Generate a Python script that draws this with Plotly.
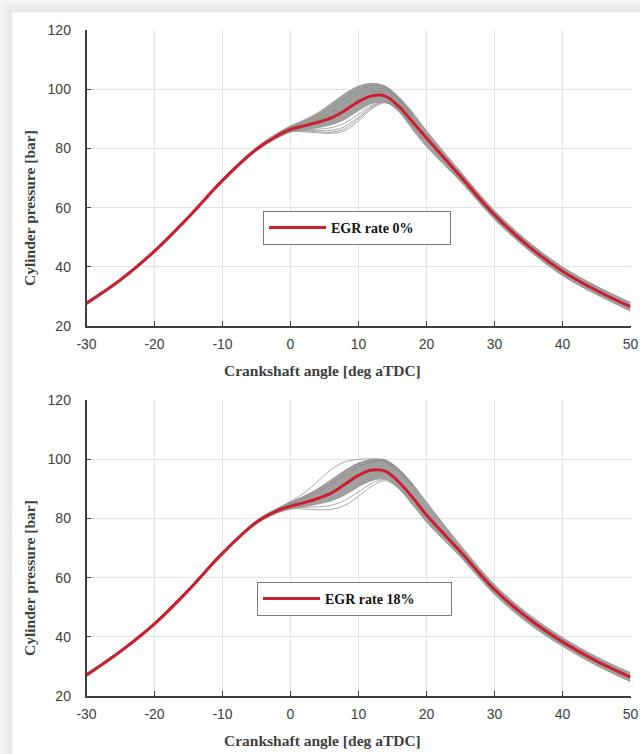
import plotly.graph_objects as go

W, H = 640, 754


def px(x):
    return x / W


def py(y):
    return 1 - y / H


crank = [-30, -25, -20, -15, -10, -5, -2, 0, 2, 4, 6, 8, 10, 12, 14, 16, 18, 20, 25, 30, 35, 40, 45, 50]
x_ticks = [-30, -20, -10, 0, 10, 20, 30, 40, 50]
x_tick_text = ["-30", "-20", "-10", "0", "10", "20", "30", "40", "50"]
y_ticks = [20, 40, 60, 80, 100, 120]

# EGR 0 %
mean_0 = [27.7, 35.6, 45.3, 56.8, 69.2, 79.7, 84.2, 86.4, 87.6, 88.8, 90.3, 92.8, 95.8, 97.8, 97.6, 94.0, 88.8, 83.5, 70.5, 57.5, 47.0, 38.5, 32.0, 26.5]
upper_0 = [28.2, 36.1, 45.8, 57.3, 69.7, 80.4, 85.1, 87.6, 89.6, 92.0, 95.2, 98.5, 101.0, 102.0, 101.0, 97.2, 92.0, 86.0, 72.2, 59.0, 48.5, 40.0, 33.5, 28.0]
lower_0 = [27.2, 35.1, 44.8, 56.2, 68.6, 79.1, 83.4, 85.5, 86.4, 87.0, 88.0, 89.8, 92.8, 95.2, 95.6, 92.2, 86.2, 80.6, 68.8, 56.0, 45.6, 37.0, 30.6, 25.0]
out_x_0 = [-2, 0, 2, 4, 6, 8, 10, 12, 14, 16, 18]
outliers_0 = [
    [83.6, 85.6, 85.6, 85.3, 85.1, 86.0, 89.3, 93.4, 95.4, 92.6, 87.0],
    [83.7, 85.8, 86.0, 86.0, 86.1, 87.4, 90.6, 94.2, 95.8, 92.8, 87.2],
    [83.6, 85.7, 85.9, 85.6, 85.5, 86.7, 90.0, 93.8, 95.6, 92.7, 87.1],
    [83.8, 86.0, 86.3, 86.5, 87.0, 88.6, 91.6, 94.6, 95.9, 92.9, 87.3],
]
inner_0 = [
    [84.9, 87.3, 89.0, 91.0, 93.8, 97.0, 99.8, 101.2, 100.4, 96.8, 91.6],
    [84.6, 86.9, 88.3, 89.9, 92.2, 95.3, 98.4, 100.2, 99.9, 96.3, 91.0],
    [84.4, 86.7, 88.0, 89.3, 91.2, 94.0, 97.2, 99.2, 99.0, 95.5, 90.2],
]

# EGR 18 %
mean_18 = [27.1, 35.1, 44.4, 55.8, 68.3, 78.8, 82.6, 84.2, 85.4, 86.8, 88.6, 91.6, 94.6, 96.4, 96.0, 92.2, 87.0, 81.2, 68.8, 56.0, 46.2, 38.3, 31.8, 26.4]
upper_18 = [27.6, 35.6, 44.9, 56.3, 68.8, 79.4, 83.4, 85.6, 87.6, 90.0, 93.0, 96.2, 98.8, 100.0, 99.8, 96.6, 91.6, 85.6, 71.0, 57.7, 47.7, 39.8, 33.3, 27.9]
lower_18 = [26.6, 34.6, 43.9, 55.2, 67.7, 78.1, 81.8, 83.2, 84.0, 84.9, 86.0, 88.0, 90.8, 92.9, 93.4, 90.0, 84.6, 78.8, 67.0, 54.3, 44.5, 36.8, 30.3, 24.8]
out_x_18 = [-2, 0, 2, 4, 6, 8, 10, 12, 14, 16, 18]
outliers_18 = [
    [82.0, 83.3, 83.2, 83.0, 83.1, 84.5, 87.5, 91.0, 92.8, 90.0, 84.5],
    [82.2, 83.6, 83.8, 84.0, 84.5, 86.2, 89.0, 92.0, 93.2, 90.2, 84.7],
    [83.2, 85.8, 88.6, 92.6, 96.6, 99.2, 100.0, 100.2, 99.6, 96.4, 91.4],
]
inner_18 = [
    [83.1, 85.4, 87.4, 90.0, 93.2, 96.2, 98.6, 99.6, 99.4, 96.2, 91.2],
    [82.9, 85.0, 86.8, 88.9, 91.6, 94.8, 97.6, 99.0, 98.8, 95.6, 90.6],
]

labels = ["<b>EGR rate 0%</b>" + "\u00a0" * 9, "<b>EGR rate 18%</b>" + "\u00a0" * 9]

RED = "#cc1f2d"
GRAY = "#939393"
DARKGRAY = "#8a8a8a"
FILL = "#a0a0a0"
AX = "#404040"

x_dom = [px(86.5), px(630.5)]
y_doms = [[py(326), py(30)], [py(696), py(400.3)]]

fig = go.Figure()

panels = [(mean_0, upper_0, lower_0, out_x_0, outliers_0, inner_0),
          (mean_18, upper_18, lower_18, out_x_18, outliers_18, inner_18)]

for i, (mean, up, lo, ox, outs, inn) in enumerate(panels):
    xa = "x" if i == 0 else "x2"
    ya = "y" if i == 0 else "y2"
    lg = "legend" if i == 0 else "legend2"
    fig.add_trace(go.Scatter(x=crank, y=lo, mode="lines", xaxis=xa, yaxis=ya,
                             line=dict(color=GRAY, width=0.8, shape="spline"),
                             showlegend=False, hoverinfo="skip"))
    fig.add_trace(go.Scatter(x=crank, y=up, mode="lines", xaxis=xa, yaxis=ya,
                             fill="tonexty", fillcolor=FILL,
                             line=dict(color=GRAY, width=0.8, shape="spline"),
                             showlegend=False, hoverinfo="skip"))
    for o in inn:
        fig.add_trace(go.Scatter(x=ox, y=o, mode="lines", xaxis=xa, yaxis=ya,
                                 line=dict(color=DARKGRAY, width=0.7, shape="spline"),
                                 showlegend=False, hoverinfo="skip"))
    for o in outs:
        fig.add_trace(go.Scatter(x=ox, y=o, mode="lines", xaxis=xa, yaxis=ya,
                                 line=dict(color=GRAY, width=0.8, shape="spline"),
                                 showlegend=False, hoverinfo="skip"))
    fig.add_trace(go.Scatter(x=crank, y=mean, mode="lines", xaxis=xa, yaxis=ya,
                             name=labels[i], legend=lg,
                             line=dict(color=RED, width=3, shape="spline")))

axis_common = dict(
    showgrid=True, gridcolor="#e3e3e3", gridwidth=1, automargin=False,
    zeroline=False, showline=True, linecolor=AX, linewidth=1.5,
    ticks="inside", ticklen=5, tickcolor=AX, tickwidth=1.2,
    tickfont=dict(family="Liberation Sans, Arial", size=14, color=AX),
)

for i in range(2):
    sfx = "" if i == 0 else "2"
    fig.layout["xaxis" + sfx] = dict(axis_common, domain=x_dom, range=[-30, 50],
                                     tickvals=x_ticks, ticktext=x_tick_text,
                                     anchor="y" + sfx, ticklabelstandoff=4)
    fig.layout["yaxis" + sfx] = dict(axis_common, domain=y_doms[i], range=[20, 120],
                                     tickvals=y_ticks,
                                     anchor="x" + sfx, ticklabelstandoff=11)

leg_common = dict(
    bgcolor="white", bordercolor="#7a7a7a", borderwidth=1,
    font=dict(family="Liberation Serif, Times New Roman", size=14, color="#111111"),
    xanchor="left", yanchor="top", itemwidth=57, tracegroupgap=0,
)
fig.layout.legend = dict(leg_common, x=px(263), y=py(211))
fig.layout.legend2 = dict(leg_common, x=px(257), y=py(582))

title_font = dict(family="Liberation Serif, Times New Roman", size=15.5, color=AX)
ann = []
for yc in [208, 578]:
    ann.append(dict(text="<b>Cylinder pressure [bar]</b>", xref="paper", yref="paper",
                    x=px(29), y=py(yc), textangle=-90, showarrow=False,
                    font=title_font, xanchor="center", yanchor="middle"))
for yc in [370, 740]:
    ann.append(dict(text="<b>Crankshaft angle [deg aTDC]</b>", xref="paper", yref="paper",
                    x=px(322), y=py(yc), showarrow=False,
                    font=title_font, xanchor="center", yanchor="middle"))

# card with soft shadow along top/left edges
shapes = []
shade = ["#f4f4f4", "#f0f0f0", "#ececec", "#e8e8e8"]
for k, c in enumerate(shade):
    off = 3 * k
    shapes.append(dict(type="rect", xref="paper", yref="paper", layer="below",
                       x0=px(off), x1=1.02, y0=-0.02, y1=py(off),
                       fillcolor=c, line=dict(width=0)))
shapes.append(dict(type="rect", xref="paper", yref="paper", layer="below",
                   x0=px(12), x1=1.02, y0=-0.02, y1=py(12.5),
                   fillcolor="white", line=dict(width=0)))

fig.update_layout(width=W, height=H, margin=dict(l=0, r=0, t=0, b=0, autoexpand=False),
                  paper_bgcolor="#f7f7f7", plot_bgcolor="rgba(0,0,0,0)",
                  annotations=ann, shapes=shapes)

fig.write_html("out.html")
